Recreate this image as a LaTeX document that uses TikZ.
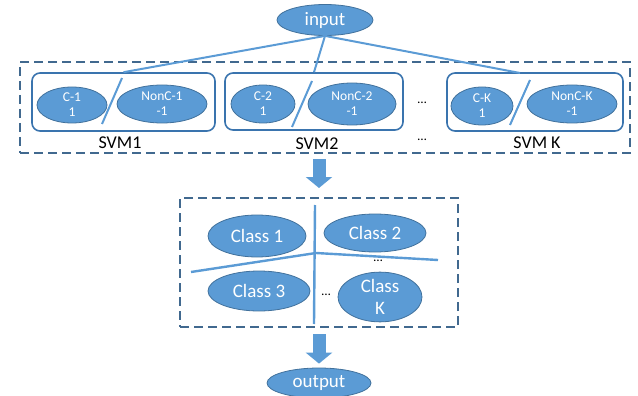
\documentclass[tikz,border=0pt]{standalone}
\usepackage{fontspec}
\setmainfont{Carlito}
\usetikzlibrary{shapes.geometric,arrows.meta}
\definecolor{fillblue}{HTML}{5B9BD5}
\definecolor{edgeblue}{HTML}{41719C}
\definecolor{boxblue}{HTML}{3A74AE}
\definecolor{dashblue}{HTML}{41698F}
\begin{document}
\begin{tikzpicture}[x=1pt,y=-1pt,
  ell/.style={ellipse, draw=edgeblue, line width=0.8pt, fill=fillblue, text=white, inner sep=0pt, align=center},
  smallell/.style={ell, font=\fontsize{13.5}{15}\selectfont},
  bigell/.style={ell, font=\fontsize{19}{19}\selectfont},
  svmbox/.style={draw=boxblue, line width=1.6pt, rounded corners=8pt, inner sep=0pt},
  dashbox/.style={draw=dashblue, line width=2pt, dash pattern=on 9pt off 5pt, inner sep=0pt},
  conn/.style={draw=fillblue, line width=2pt},
  lbl/.style={font=\fontsize{18}{18}\selectfont, inner sep=0pt},
  dots/.style={font=\fontsize{13}{13}\selectfont, inner sep=0pt},
  blockarrow/.style={draw=fillblue, line width=13pt, -{Triangle[length=11pt,width=26pt]}}
]
\useasboundingbox (0,0) rectangle (638,396);

% outer dashed box and svm boxes
\node[dashbox, minimum width=610pt, minimum height=91pt] (outer) at (325,107.5) {};
\node[svmbox, minimum width=183pt, minimum height=58pt] (svm1) at (123.5,102) {};
\node[svmbox, minimum width=178pt, minimum height=57pt] (svm2) at (314,101.5) {};
\node[svmbox, minimum width=176pt, minimum height=58pt] (svmk) at (535,102) {};

% input
\node[bigell, minimum width=96pt, minimum height=31pt] (input) at (325,20) {input};

% small ellipses
\node[smallell, minimum width=70pt, minimum height=36pt] (c1) at (72,105) {C-1\\1};
\node[smallell, minimum width=90pt, minimum height=38pt] (n1) at (162,104) {NonC-1\\-1};
\node[smallell, minimum width=64pt, minimum height=38pt] (c2) at (263,104) {C-2\\1};
\node[smallell, minimum width=88pt, minimum height=42pt] (n2) at (352,104) {NonC-2\\-1};
\node[smallell, minimum width=62pt, minimum height=38pt] (ck) at (482,106) {C-K\\1};
\node[smallell, minimum width=90pt, minimum height=38pt] (nk) at (572,104) {NonC-K\\-1};

% slashes
\coordinate (s1a) at (122,78); \coordinate (s1b) at (102,124);
\coordinate (s2a) at (312,81); \coordinate (s2b) at (292,127);
\coordinate (ska) at (530,80); \coordinate (skb) at (510,125);
\draw[conn] (s1a) -- (s1b);
\draw[conn] (s2a) -- (s2b);
\draw[conn] (ska) -- (skb);

% connectors from input
\coordinate (kland) at (520,73);
\draw[conn] (input.south) -- (svm1.north);
\draw[conn] (input.south) -- (svm2.north);
\draw[conn] (input.south) -- (kland);

% labels
\node[lbl] (l1) at (120,143) {SVM1};
\node[lbl] (l2) at (317,144) {SVM2};
\node[lbl] (lk) at (537,143) {SVM K};
\node[dots] (d1) at (422,103) {…};
\node[dots] (d2) at (422,140) {…};

% lower dashed box
\node[dashbox, minimum width=278pt, minimum height=129pt] (lower) at (319,262.5) {};

% division lines
\coordinate (vt) at (315,205); \coordinate (vb) at (314,324);
\coordinate (hl) at (191,272); \coordinate (hc) at (316,253); \coordinate (hr) at (438,260);
\draw[conn, line width=2.4pt] (vt) -- (vb);
\draw[conn, line width=2.4pt] (hl) -- (hc) -- (hr);

% classes
\node[bigell, minimum width=98pt, minimum height=42pt] (cl1) at (257,236) {Class 1};
\node[bigell, minimum width=102pt, minimum height=38pt] (cl2) at (375,233) {Class 2};
\node[bigell, minimum width=102pt, minimum height=40pt] (cl3) at (259,291) {Class 3};
\node[ell, font=\fontsize{19}{22}\selectfont, minimum width=84pt, minimum height=48pt] (clk) at (380,297) {Class\\K};
\node[dots] (d3) at (378,261) {…};
\node[dots] (d4) at (326,295) {…};

% output
\node[bigell, minimum width=104pt, minimum height=30pt] (output) at (319,383) {output};

% block arrows
\draw[blockarrow, shorten <=5pt, shorten >=9pt] (lower.north |- outer.south) -- (lower.north);
\draw[blockarrow, shorten <=6pt, shorten >=4pt] (lower.south -| output.north) -- (output.north);
\end{tikzpicture}
\end{document}
